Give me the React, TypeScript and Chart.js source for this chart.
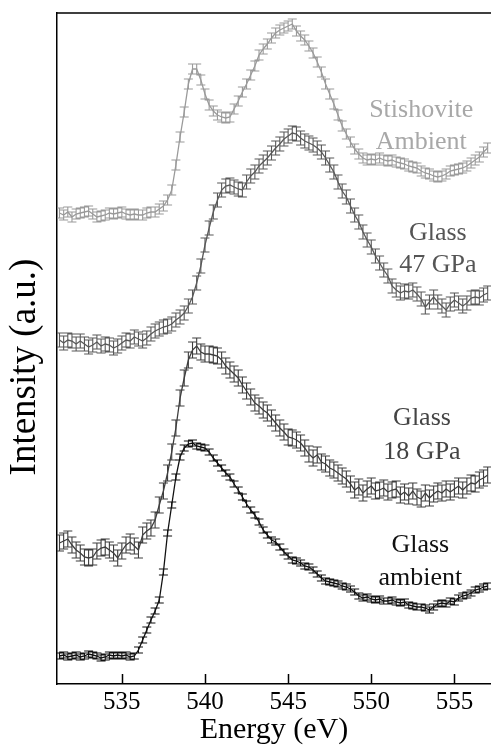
import { useEffect, useRef } from "react";
import { Chart, registerables } from "chart.js";

Chart.register(...registerables);

// Photon energy (eV)
const energy = [
  531.25, 531.5, 531.75, 532.0, 532.25, 532.5, 532.75, 533.0, 533.25, 533.5,
  533.75, 534.0, 534.25, 534.5, 534.75, 535.0, 535.25, 535.5, 535.75, 536.0,
  536.25, 536.5, 536.75, 537.0, 537.25, 537.5, 537.75, 538.0, 538.25, 538.5,
  538.75, 539.0, 539.25, 539.5, 539.75, 540.0, 540.25, 540.5, 540.75, 541.0,
  541.25, 541.5, 541.75, 542.0, 542.25, 542.5, 542.75, 543.0, 543.25, 543.5,
  543.75, 544.0, 544.25, 544.5, 544.75, 545.0, 545.25, 545.5, 545.75, 546.0,
  546.25, 546.5, 546.75, 547.0, 547.25, 547.5, 547.75, 548.0, 548.25, 548.5,
  548.75, 549.0, 549.25, 549.5, 549.75, 550.0, 550.25, 550.5, 550.75, 551.0,
  551.25, 551.5, 551.75, 552.0, 552.25, 552.5, 552.75, 553.0, 553.25, 553.5,
  553.75, 554.0, 554.25, 554.5, 554.75, 555.0, 555.25, 555.5, 555.75, 556.0,
  556.25, 556.5, 556.75, 557.0,
];

// Intensities (a.u., vertically offset spectra)
const glassAmbient = [
  28, 29, 27, 28, 29, 27, 28, 30, 29, 28,
  26, 27, 29, 28, 29, 28, 29, 27, 28, 34,
  44, 54, 64, 73, 84, 112, 151, 179, 207, 227,
  236, 240, 241, 238, 237, 236, 232, 226, 221, 216,
  211, 207, 200, 194, 187, 180, 174, 169, 162, 154,
  149, 144, 142, 137, 132, 128, 124, 123, 121, 118,
  117, 114, 110, 106, 103, 102, 101, 100, 98, 97,
  95, 92, 88, 86, 87, 85, 84, 85, 83, 83,
  84, 82, 81, 82, 79, 78, 77, 77, 76, 74,
  77, 80, 81, 80, 83, 82, 86, 88, 89, 91,
  94, 95, 97, 98,
];

const glass18GPa = [
  141, 143, 145, 139, 134, 131, 127, 126, 127, 133,
  136, 137, 134, 131, 126, 133, 139, 142, 138, 134,
  149, 153, 156, 164, 179, 193, 211, 232, 256, 286,
  306, 324, 334, 338, 332, 330, 330, 329, 328, 324,
  318, 314, 310, 306, 299, 293, 287, 281, 278, 274,
  271, 266, 261, 256, 252, 247, 246, 244, 241, 236,
  230, 226, 229, 222, 220, 216, 214, 211, 208, 205,
  200, 194, 197, 191, 195, 198, 193, 194, 196, 192,
  194, 195, 189, 192, 188, 193, 187, 185, 191, 186,
  190, 193, 191, 195, 192, 195, 198, 194, 198, 201,
  200, 204, 206, 209,
];

const glass47GPa = [
  344, 341, 344, 343, 340, 343, 340, 337, 339, 342,
  338, 340, 339, 336, 338, 341, 344, 343, 347, 345,
  343, 346, 350, 353, 355, 357, 358, 360, 364, 367,
  371, 378, 387, 401, 418, 439, 456, 472, 484, 494,
  498, 499, 497, 495, 494, 502, 508, 512, 518, 522,
  526, 531, 536, 540, 545, 548, 551, 550, 546, 543,
  541, 539, 536, 532, 526, 519, 512, 502, 493, 487,
  478, 469, 462, 452, 444, 437, 428, 421, 414, 408,
  398, 394, 391, 393, 392, 394, 390, 385, 377, 382,
  387, 382, 378, 374, 380, 384, 381, 378, 381, 386,
  387, 386, 389, 391,
];

const stishovite = [
  471, 469, 472, 467, 470, 471, 472, 473, 470, 467,
  468, 469, 471, 470, 471, 472, 470, 469, 470, 469,
  469, 471, 472, 472, 475, 478, 484, 494, 519, 547,
  572, 600, 615, 615, 604, 590, 579, 573, 569, 567,
  566, 567, 575, 583, 592, 600, 609, 618, 629, 635,
  640, 646, 651, 654, 656, 658, 660, 653, 648, 644,
  638, 631, 622, 612, 600, 590, 580, 569, 558, 550,
  542, 535, 530, 526, 524, 525, 524, 526, 524, 523,
  524, 522, 521, 520, 518, 517, 516, 513, 511, 510,
  508, 507, 508, 510, 513, 514, 515, 516, 518, 521,
  524, 527, 532, 536,
];

// Error bar half-heights (a.u.)
const errAmbient = 3;
const err18GPa = 8;
const err47GPa = 7;
const errStishovite = 5;

const xTicks = [535, 540, 545, 550, 555];

const seriesNames = ["Stishovite Ambient", "Glass 47 GPa", "Glass 18 GPa", "Glass ambient"];
const seriesValues = [stishovite, glass47GPa, glass18GPa, glassAmbient];
const seriesErrors = [errStishovite, err47GPa, err18GPa, errAmbient];
const seriesColors = ["#9a9a9a", "#595959", "#3e3e3e", "#111111"];

const labelLines = [
  ["Stishovite", "Ambient"],
  ["Glass", "47 GPa"],
  ["Glass", "18 GPa"],
  ["Glass", "ambient"],
];
const labelX = [553.0, 554.0, 553.05, 552.95];
const labelY = [
  [574, 542],
  [451, 419],
  [266, 232],
  [139, 106],
];
const labelColors = ["#a8a8a8", "#555555", "#444444", "#111111"];

const FONT = "'Liberation Serif', 'Times New Roman', serif";

const errorBarPlugin = {
  id: "errorBars",
  afterDatasetsDraw(chart: any) {
    const { ctx, chartArea, scales } = chart;
    const x = scales.x;
    const y = scales.y;
    const cap = 4.5;
    ctx.save();
    ctx.beginPath();
    ctx.rect(chartArea.left, chartArea.top, chartArea.right - chartArea.left, chartArea.bottom - chartArea.top);
    ctx.clip();
    chart.data.datasets.forEach((ds: any) => {
      ctx.strokeStyle = ds.borderColor;
      ctx.lineWidth = 1.1;
      ctx.beginPath();
      ds.data.forEach((p: any) => {
        const px = x.getPixelForValue(p.x);
        const y1 = y.getPixelForValue(p.y - ds.errorBar);
        const y2 = y.getPixelForValue(p.y + ds.errorBar);
        ctx.moveTo(px, y1);
        ctx.lineTo(px, y2);
        ctx.moveTo(px - cap, y1);
        ctx.lineTo(px + cap, y1);
        ctx.moveTo(px - cap, y2);
        ctx.lineTo(px + cap, y2);
      });
      ctx.stroke();
    });
    ctx.restore();
  },
};

const labelPlugin = {
  id: "seriesLabels",
  afterDatasetsDraw(chart: any) {
    const { ctx, scales } = chart;
    ctx.save();
    ctx.font = `26px ${FONT}`;
    ctx.textAlign = "center";
    ctx.textBaseline = "middle";
    labelLines.forEach((lines, i) => {
      ctx.fillStyle = labelColors[i];
      lines.forEach((t, j) => {
        ctx.fillText(t, scales.x.getPixelForValue(labelX[i]), scales.y.getPixelForValue(labelY[i][j]));
      });
    });
    ctx.restore();
  },
};

const framePlugin = {
  id: "frame",
  afterDraw(chart: any) {
    const { ctx, chartArea, scales } = chart;
    ctx.save();
    ctx.strokeStyle = "#000";
    ctx.lineWidth = 1.5;
    ctx.beginPath();
    ctx.moveTo(chartArea.left, chartArea.top);
    ctx.lineTo(chartArea.right, chartArea.top);
    xTicks.forEach((t) => {
      const px = Math.round(scales.x.getPixelForValue(t)) + 0.5;
      ctx.moveTo(px, chartArea.bottom);
      ctx.lineTo(px, chartArea.bottom - 10);
    });
    ctx.stroke();
    ctx.restore();
  },
};

export default function App() {
  const ref = useRef<HTMLCanvasElement>(null);
  useEffect(() => {
    document.body.style.margin = "0";
    const datasets = seriesValues.map((vals, i) => ({
      label: seriesNames[i],
      data: vals.map((v, k) => ({ x: energy[k], y: v })),
      borderColor: seriesColors[i],
      backgroundColor: seriesColors[i],
      borderWidth: 1.3,
      pointRadius: 0,
      tension: 0,
      fill: false,
      errorBar: seriesErrors[i],
    }));
    const chart = new Chart(ref.current as HTMLCanvasElement, {
      type: "line",
      data: { datasets } as any,
      options: {
        animation: false,
        responsive: false,
        maintainAspectRatio: false,
        layout: { padding: { top: 13, left: 0, right: 0, bottom: 0 } },
        plugins: { legend: { display: false }, tooltip: { enabled: false } },
        scales: {
          x: {
            type: "linear",
            min: 531.1,
            max: 557.2,
            afterBuildTicks: (s: any) => {
              s.ticks = xTicks.map((v) => ({ value: v }));
            },
            afterFit: (s: any) => {
              s.height = 65;
            },
            grid: { display: false, drawTicks: false },
            border: { display: true, color: "#000", width: 1.5 },
            ticks: {
              font: { family: FONT, size: 25 },
              color: "#000",
              padding: 3,
              maxRotation: 0,
            },
            title: {
              display: true,
              text: "Energy (eV)",
              color: "#000",
              font: { family: FONT, size: 30, lineHeight: 1.2 },
              padding: { top: 0, bottom: 1 },
            },
          },
          y: {
            type: "linear",
            min: 0,
            max: 671,
            afterFit: (s: any) => {
              s.width = 57;
            },
            grid: { display: false, drawTicks: false },
            border: { display: true, color: "#000", width: 1.5 },
            ticks: { display: false },
            title: {
              display: true,
              text: "Intensity (a.u.)    ",
              color: "#000",
              font: { family: FONT, size: 37, lineHeight: 1 },
              padding: { top: 7, bottom: 0 },
            },
          },
        },
      } as any,
      plugins: [errorBarPlugin, labelPlugin, framePlugin],
    });
    return () => chart.destroy();
  }, []);
  return (
    <div style={{ width: 491, height: 749 }}>
      <canvas ref={ref} width={491} height={749} style={{ display: "block" }} />
    </div>
  );
}
